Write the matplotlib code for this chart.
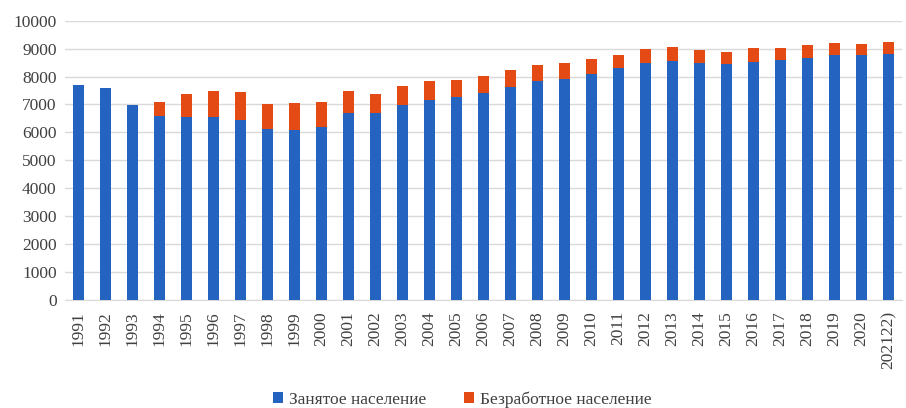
import matplotlib
matplotlib.use("Agg")
import matplotlib.pyplot as plt
import numpy as np

years = ["1991", "1992", "1993", "1994", "1995", "1996", "1997", "1998", "1999", "2000",
         "2001", "2002", "2003", "2004", "2005", "2006", "2007", "2008", "2009", "2010",
         "2011", "2012", "2013", "2014", "2015", "2016", "2017", "2018", "2019", "2020",
         "202122)"]
employed = [7700, 7580, 6970, 6590, 6565, 6540, 6446, 6125, 6089, 6186,
            6707, 6707, 6970, 7160, 7257, 7400, 7636, 7850, 7900, 8089,
            8293, 8493, 8554, 8493, 8446, 8529, 8589, 8650, 8757, 8757,
            8793]
total = [7700, 7580, 6970, 7100, 7364, 7493, 7435, 7030, 7043, 7100,
         7493, 7386, 7660, 7840, 7886, 8018, 8220, 8422, 8482, 8614,
         8765, 8993, 9043, 8946, 8886, 9005, 9005, 9146, 9218, 9182,
         9243]
unemployed = [t - e for t, e in zip(total, employed)]
series_names = ["Занятое население", "Безработное население"]
yticks = list(range(0, 10001, 1000))

plt.rcParams['font.family'] = ['Liberation Serif', 'DejaVu Serif']

fig = plt.figure(figsize=(9.06, 4.08), dpi=100)
ax = fig.add_axes([0.0717, 0.2647, 0.9239, 0.6846])

x = np.arange(len(years))
blue = '#2563c0'
orange = '#e34a14'
ax.bar(x, employed, width=0.43, color=blue, label=series_names[0], zorder=3)
ax.bar(x, unemployed, width=0.43, bottom=employed, color=orange, label=series_names[1], zorder=3)

ax.set_xlim(-0.5, len(years) - 0.5)
ax.set_ylim(0, 10000)
ax.set_yticks(yticks)
ax.set_yticklabels([str(v) for v in yticks], fontsize=12.5, color='#404040')
ax.set_xticks(x)
ax.set_xticklabels(years, rotation=90, fontsize=12.5, color='#404040', va='top')
ax.grid(axis='y', color='#d9d9d9', linewidth=1.0, zorder=0)
for s in ['top', 'right', 'left']:
    ax.spines[s].set_visible(False)
ax.spines['bottom'].set_color('#d9d9d9')
ax.tick_params(axis='both', length=0, pad=6)
ax.tick_params(axis='x', pad=8)

fig.legend(loc='center', bbox_to_anchor=(0.51, 0.02), ncol=2, frameon=False,
           fontsize=12.5, handlelength=0.6, handleheight=0.6, handletextpad=0.3,
           columnspacing=2.2, labelcolor='#404040')

fig.savefig('out.png', dpi=100)
